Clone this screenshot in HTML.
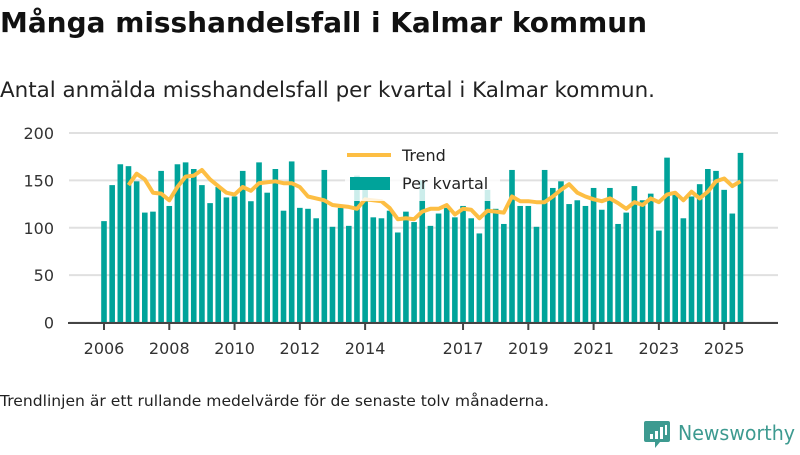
<!DOCTYPE html>
<html><head><meta charset="utf-8"><style>
body{margin:0;width:800px;height:450px;background:#fff;overflow:hidden;font-family:"Liberation Sans","DejaVu Sans",sans-serif;color:#222}
svg text{font-family:"DejaVu Sans","Liberation Sans",sans-serif}
</style></head><body>
<svg width="800" height="450">
<text x="0" y="32" font-size="28" font-weight="bold" fill="#111" textLength="647" lengthAdjust="spacingAndGlyphs">Många misshandelsfall i Kalmar kommun</text>
<text x="0" y="97" font-size="21" fill="#222" textLength="655" lengthAdjust="spacingAndGlyphs">Antal anmälda misshandelsfall per kvartal i Kalmar kommun.</text>
<g id="grid"></g>
<g id="bars"></g>
<g id="trend"></g>
<g id="axes"></g>
<g>
<rect x="345" y="140" width="155" height="61" fill="#fff" opacity="0.8"/>
<line x1="347" y1="155" x2="391" y2="155" stroke="#fdbe43" stroke-width="4"/>
<text x="402" y="161" font-size="16" fill="#222">Trend</text>
<rect x="350" y="177" width="40" height="13" fill="#00a39a"/>
<text x="402" y="189" font-size="16" fill="#222">Per kvartal</text>
</g>
<text x="0" y="406" font-size="15" fill="#222" textLength="549" lengthAdjust="spacingAndGlyphs">Trendlinjen är ett rullande medelvärde för de senaste tolv månaderna.</text>
<g>
<path d="M646 421 h22 a2 2 0 0 1 2 2 v17 a2 2 0 0 1 -2 2 h-8 l-5 6 v-6 h-9 a2 2 0 0 1 -2 -2 v-17 a2 2 0 0 1 2 -2z" fill="#3d9a90"/>
<rect x="650" y="434" width="3" height="5" fill="#fff"/><rect x="655" y="431" width="3" height="8" fill="#fff"/><rect x="660" y="427" width="3" height="12" fill="#fff"/><rect x="665" y="425" width="2" height="10" fill="#fff"/>
<text x="678" y="440" font-size="20" fill="#3d9a90" textLength="117" lengthAdjust="spacingAndGlyphs">Newsworthy</text>
</g>
</svg>
<script>
const values=[107,145,167,165,149,116,117,160,123,167,169,162,145,126,143,132,133,160,128,169,137,162,118,170,121,120,110,161,101,121,102,155,140,111,110,118,95,117,106,150,102,115,121,111,123,110,94,140,120,104,161,123,123,101,161,142,149,125,129,123,142,119,142,104,116,144,129,136,97,174,135,110,133,146,162,160,140,115,179];
const trendStart=3;
const trend=[145,157,151,137,136,129,143,154,155,161,151,144,137,135,143,139,147,148,149,147,147,143,133,131,129,124,123,122,120,130,129,128,121,109,110,109,117,120,120,124,114,120,119,110,118,117,116,133,128,128,127,127,133,140,146,137,133,130,128,131,126,120,127,124,131,127,135,137,129,138,131,138,149,152,144,149];
const yTicks=[0,50,100,150,200];
const yearLabels=[2006,2008,2010,2012,2014,2017,2019,2021,2023,2025];
const NS='http://www.w3.org/2000/svg';
const x=i=>104+i*8.16;
const y=v=>322.5-v*0.9475;
const xYear=yr=>x((yr-2006)*4);
function mk(t,a,p){const e=document.createElementNS(NS,t);for(const k in a)e.setAttribute(k,a[k]);p.appendChild(e);return e;}
const grid=document.getElementById('grid');
yTicks.forEach(v=>{
 const l=mk('line',{x1:69,x2:778,y1:y(v),y2:y(v),stroke:'#e0e0e0','stroke-width':2},grid);
 
 
 const t=mk('text',{x:54,y:y(v)+6,'text-anchor':'end','font-size':16,fill:'#333'},grid);
 t.textContent=v;
 
 
});
const bars=document.getElementById('bars');
values.forEach((v,i)=>{
 const r=mk('rect',{x:x(i)-2.8,y:y(v),width:5.6,height:322.5-y(v),fill:'#00a39a'},bars);
 
 
});
const pts=trend.map((v,i)=>x(i+trendStart).toFixed(1)+','+y(v).toFixed(1)).join(' ');
const pl=mk('polyline',{points:pts,fill:'none',stroke:'#fdbe43','stroke-width':4,'stroke-linejoin':'round'},document.getElementById('trend'));


const axes=document.getElementById('axes');
const ax=mk('line',{x1:68,x2:778,y1:323,y2:323,stroke:'#444','stroke-width':2},axes);


yearLabels.forEach(yr=>{
 const tk=mk('line',{x1:xYear(yr),x2:xYear(yr),y1:323,y2:330,stroke:'#444','stroke-width':2},axes);
 
 
 const t=mk('text',{x:xYear(yr),y:354,'text-anchor':'middle','font-size':16,fill:'#333'},axes);
 t.textContent=yr;
 
 
});
</script>
</body></html>
